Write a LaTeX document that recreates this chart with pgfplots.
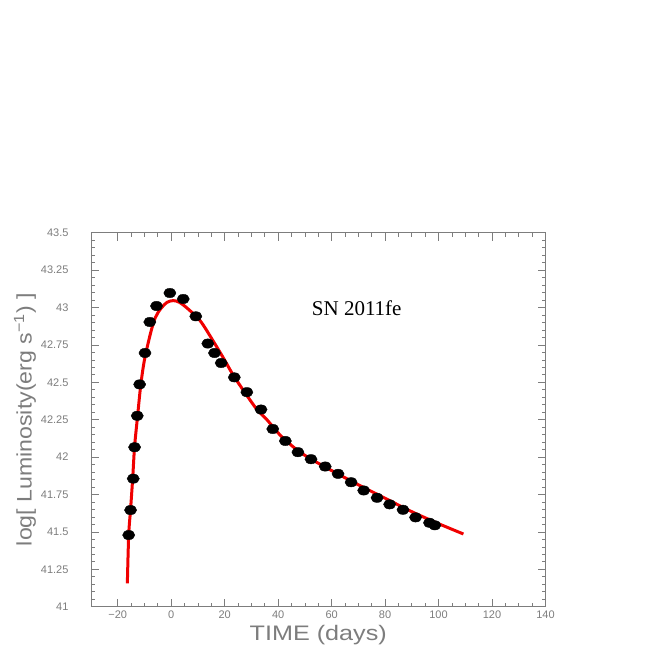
\documentclass[border=0pt]{standalone}
\usepackage{pgfplots}
\pgfplotsset{compat=1.18}
\usepackage{graphicx}
\usepackage{fontspec}
\setmainfont{Liberation Sans}
\newfontfamily\seriffont{Liberation Serif}
\definecolor{axgray}{RGB}{125,125,125}
\definecolor{fitred}{RGB}{240,0,0}
\begin{document}
\begin{tikzpicture}[x=1pt,y=1pt]
\path[use as bounding box] (0,0) rectangle (654,654);
\begin{axis}[
  at={(91pt,47.3pt)}, anchor=south west,
  scale only axis, width=454.5pt, height=374pt,
  xmin=-30, xmax=140, ymin=41, ymax=43.5,
  xtick={-20,0,20,40,60,80,100,120,140},
  xticklabels={−20,0,20,40,60,80,100,120,140},
  minor x tick num=3,
  ytick={41,41.25,41.5,41.75,42,42.25,42.5,42.75,43,43.25,43.5},
  yticklabels={41,41.25,41.5,41.75,42,42.25,42.5,42.75,43,43.25,43.5},
  minor y tick num=4,
  tick align=inside,
  major tick length=8pt, minor tick length=4pt,
  axis line style={axgray, line width=0.9pt},
  every tick/.style={axgray, line width=0.7pt},
  tick label style={color=axgray, font=\fontsize{11}{13}\selectfont},
  xticklabel style={yshift=-1pt, xscale=1},
  yticklabel style={xshift=-19pt},
  xlabel={\scalebox{1.2}[1]{TIME (days)}},
  ylabel={\scalebox{1.1}[1]{log[ Luminosity(erg s\textsuperscript{−1}) ]}},
  label style={color=axgray, font=\fontsize{21}{24}\selectfont},
  xlabel style={at={(axis description cs:0.5,-0.076)}, anchor=center},
  ylabel style={at={(axis description cs:-0.145,0.5)}, anchor=center, rotate=0},
  clip=false,
]
\addplot[fitred, line width=3pt, smooth, tension=0.5] coordinates {
(-16.4,41.156) (-15.9,41.48) (-15.2,41.65) (-14.4,41.86) (-13.7,42.07)
(-12.6,42.27) (-11.4,42.48) (-10.0,42.65) (-7.7,42.83) (-6,42.93)
(-4,42.99) (-1.5,43.035) (0.8,43.046) (3,43.035) (6,42.995)
(10.9,42.91) (15.9,42.77) (19.6,42.66) (23.3,42.545) (28,42.42)
(32,42.32) (35.8,42.25) (40.7,42.148) (46.9,42.05) (52,41.99)
(60,41.91) (70,41.815) (80,41.725) (90,41.635) (100,41.555) (109.3,41.486)
};
\addplot[only marks, mark=*, mark size=4.7pt, mark options={xscale=1.3, fill=black, draw=black}] coordinates {
(-15.9,41.479) (-15.2,41.646) (-14.2,41.856) (-13.7,42.066) (-12.7,42.276)
(-11.8,42.486) (-9.8,42.696) (-8.0,42.903) (-5.5,43.010) (-0.5,43.097)
(4.5,43.057) (9.2,42.941) (13.7,42.759) (16.2,42.696) (18.7,42.629)
(23.6,42.533) (28.3,42.434) (33.6,42.318) (38.0,42.188) (42.7,42.108)
(47.4,42.033) (52.3,41.986) (57.6,41.937) (62.4,41.888) (67.3,41.832)
(72.0,41.777) (77.0,41.728) (81.7,41.684) (86.7,41.648) (91.4,41.597)
(96.6,41.561) (98.6,41.544)
};
\node[font=\seriffont\fontsize{21}{24}\selectfont, anchor=center] at (axis cs:69.4,42.997) {SN 2011fe};
\end{axis}
\end{tikzpicture}
\end{document}
